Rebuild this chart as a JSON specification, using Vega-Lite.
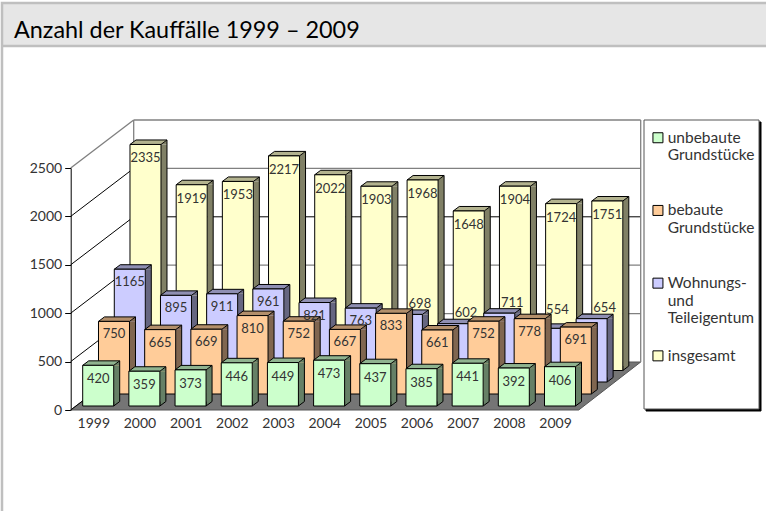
{"$schema":"https://vega.github.io/schema/vega-lite/v6.json","width":508,"height":242,"autosize":{"type":"none"},"padding":{"left":70.7,"top":168,"right":187.3,"bottom":101},"background":"#ffffff",
"title":{"text":"Anzahl der Kauffälle 1999 – 2009","anchor":"start","frame":"group","dx":-56.7,"offset":-45,"fontSize":23.4,"font":"Lato","fontWeight":"normal","color":"#000000"},
"config":{"view":{"stroke":null},"text":{"font":"Lato"}},
"datasets":{"grid":[{"tick":0},{"tick":500},{"tick":1000},{"tick":1500},{"tick":2000},{"tick":2500}],
"one":[{"k":1}],
"d":[{"year":1999,"series":"unbebaute Grundstücke","value":420},{"year":2000,"series":"unbebaute Grundstücke","value":359},{"year":2001,"series":"unbebaute Grundstücke","value":373},{"year":2002,"series":"unbebaute Grundstücke","value":446},{"year":2003,"series":"unbebaute Grundstücke","value":449},{"year":2004,"series":"unbebaute Grundstücke","value":473},{"year":2005,"series":"unbebaute Grundstücke","value":437},{"year":2006,"series":"unbebaute Grundstücke","value":385},{"year":2007,"series":"unbebaute Grundstücke","value":441},{"year":2008,"series":"unbebaute Grundstücke","value":392},{"year":2009,"series":"unbebaute Grundstücke","value":406},
{"year":1999,"series":"bebaute Grundstücke","value":750},{"year":2000,"series":"bebaute Grundstücke","value":665},{"year":2001,"series":"bebaute Grundstücke","value":669},{"year":2002,"series":"bebaute Grundstücke","value":810},{"year":2003,"series":"bebaute Grundstücke","value":752},{"year":2004,"series":"bebaute Grundstücke","value":667},{"year":2005,"series":"bebaute Grundstücke","value":833},{"year":2006,"series":"bebaute Grundstücke","value":661},{"year":2007,"series":"bebaute Grundstücke","value":752},{"year":2008,"series":"bebaute Grundstücke","value":778},{"year":2009,"series":"bebaute Grundstücke","value":691},
{"year":1999,"series":"Wohnungs- und Teileigentum","value":1165},{"year":2000,"series":"Wohnungs- und Teileigentum","value":895},{"year":2001,"series":"Wohnungs- und Teileigentum","value":911},{"year":2002,"series":"Wohnungs- und Teileigentum","value":961},{"year":2003,"series":"Wohnungs- und Teileigentum","value":821},{"year":2004,"series":"Wohnungs- und Teileigentum","value":763},{"year":2005,"series":"Wohnungs- und Teileigentum","value":698},{"year":2006,"series":"Wohnungs- und Teileigentum","value":602},{"year":2007,"series":"Wohnungs- und Teileigentum","value":711},{"year":2008,"series":"Wohnungs- und Teileigentum","value":554},{"year":2009,"series":"Wohnungs- und Teileigentum","value":654},
{"year":1999,"series":"insgesamt","value":2335},{"year":2000,"series":"insgesamt","value":1919},{"year":2001,"series":"insgesamt","value":1953},{"year":2002,"series":"insgesamt","value":2217},{"year":2003,"series":"insgesamt","value":2022},{"year":2004,"series":"insgesamt","value":1903},{"year":2005,"series":"insgesamt","value":1968},{"year":2006,"series":"insgesamt","value":1648},{"year":2007,"series":"insgesamt","value":1904},{"year":2008,"series":"insgesamt","value":1724},{"year":2009,"series":"insgesamt","value":1751}]},
"layer":[
{"data":{"name":"one"},"mark":{"type":"point","filled":true,"opacity":1,"size":4,"fill":"#e6e6e6","stroke":"#bfbfbf","strokeWidth":2.5,"shape":"M2,3 H775 V46 H2 Z M2,46 V520"},"encoding":{"x":{"value":-70.7},"y":{"value":-168}}},
{"data":{"name":"one"},"mark":{"type":"point","filled":true,"opacity":1,"size":4,"fill":"#000000","stroke":"#000000","strokeWidth":1,"shape":"M2,2 H117 V291 H2 Z"},"encoding":{"x":{"value":573.3},"y":{"value":-48}}},
{"data":{"name":"one"},"mark":{"type":"point","filled":true,"opacity":1,"size":4,"fill":"#ffffff","stroke":"#555555","strokeWidth":1,"shape":"M0,0 H115 V289 H0 Z"},"encoding":{"x":{"value":573.3},"y":{"value":-48}}},
{"data":{"name":"one"},"mark":{"type":"point","filled":true,"opacity":1,"size":4,"fill":"#757575","stroke":"#555555","strokeWidth":1,"shape":"M0,0 L508,0 L570,-48 L63,-48 Z"},"encoding":{"x":{"value":0},"y":{"datum":0,"title":null,"scale":{"domain":[0,2500],"nice":false},"axis":{"values":[0,500,1000,1500,2000,2500],"format":"d","grid":false,"tickSize":6,"tickColor":"#000000","domainColor":"#000000","labelFont":"Lato","labelFontSize":14,"labelColor":"#333333","labelPadding":3}}}},
{"data":{"name":"grid"},"transform":[{"filter":"datum.tick!=1500&&datum.tick!=0"}],"mark":{"type":"rule","color":"#808080","strokeWidth":1.3,"yOffset":-48,"y2Offset":-48},"encoding":{"x":{"value":63},"x2":{"value":570},"y":{"field":"tick","type":"quantitative","title":null},"y2":{"field":"tick"}}},
{"data":{"name":"grid"},"transform":[{"filter":"datum.tick==1500"}],"mark":{"type":"rule","color":"#000000","strokeWidth":1,"yOffset":-48,"y2Offset":-48},"encoding":{"x":{"value":63},"x2":{"value":570},"y":{"field":"tick","type":"quantitative","title":null},"y2":{"field":"tick"}}},
{"data":{"name":"grid"},"transform":[{"filter":"datum.tick==2500"}],"mark":{"type":"rule","color":"#808080","strokeWidth":1.3,"y2Offset":-48},"encoding":{"x":{"value":0},"x2":{"value":63},"y":{"field":"tick","type":"quantitative","title":null},"y2":{"field":"tick"}}},
{"data":{"name":"grid"},"transform":[{"filter":"datum.tick<2500"}],"mark":{"type":"rule","color":"#000000","strokeWidth":1,"y2Offset":-48},"encoding":{"x":{"value":0},"x2":{"value":63},"y":{"field":"tick","type":"quantitative","title":null},"y2":{"field":"tick"}}},
{"data":{"name":"one"},"mark":{"type":"rule","color":"#808080","strokeWidth":1.3,"yOffset":-48,"y2Offset":-48},"encoding":{"x":{"value":63},"y":{"datum":2500,"title":null},"y2":{"datum":0}}},
{"data":{"name":"one"},"mark":{"type":"rule","color":"#808080","strokeWidth":1.3,"yOffset":-48,"y2Offset":-48},"encoding":{"x":{"value":570},"y":{"datum":2500,"title":null},"y2":{"datum":0}}},
{"data":{"name":"d"},"encoding":{"x":{"field":"year","type":"ordinal","title":null,"scale":{"type":"band","paddingInner":0,"paddingOuter":0},"axis":{"labelAngle":0,"ticks":false,"domain":false,"labelPadding":6,"labelFont":"Lato","labelFontSize":14,"labelColor":"#333333"}},"y":{"field":"value","type":"quantitative","stack":null,"title":null}},
"layer":[
{"transform":[{"filter":"datum.series=='insgesamt'"}],"layer":[
{"mark":{"type":"bar","width":6,"fill":"#808066","xOffset":70.2,"yOffset":-39.5,"y2Offset":-44},"encoding":{"y2":{"datum":0}}},
{"mark":{"type":"point","filled":true,"opacity":1,"size":4,"fill":"#808066","shape":"M31,0 L37,-4.5 L37,0 Z","xOffset":36.2,"yOffset":-39.5}},
{"mark":{"type":"point","filled":true,"opacity":1,"size":4,"fill":"#b3b38f","stroke":"#000000","strokeWidth":1,"shape":"M0,0 L31,0 L37,-4.5 L6,-4.5 Z","xOffset":36.2,"yOffset":-39.5}},
{"mark":{"type":"rule","color":"#000000","xOffset":73.2,"yOffset":-44,"y2Offset":-44},"encoding":{"y2":{"datum":0}}},
{"mark":{"type":"point","filled":true,"opacity":1,"size":4,"fill":"#808066","stroke":"#000000","strokeWidth":1,"shape":"M0,-4.5 L0,0 L6,-4.5","xOffset":67.2,"yOffset":-39.5},"encoding":{"y":{"datum":0}}},
{"mark":{"type":"bar","width":31,"stroke":"#000000","strokeWidth":1,"xOffset":51.7,"yOffset":-39.5,"y2Offset":-39.5},"encoding":{"y2":{"datum":0},"color":{"field":"series","type":"nominal","scale":{"domain":["unbebaute Grundstücke","bebaute Grundstücke","Wohnungs- und Teileigentum","insgesamt"],"range":["#ccffcc","#ffcc99","#ccccff","#ffffcc"]},"legend":{"title":null,"orient":"none","legendX":579.5,"legendY":-38,"padding":0,"symbolType":"square","symbolSize":100,"symbolStrokeColor":"#555555","symbolStrokeWidth":1,"labelFont":"Lato","labelFontSize":15.5,"labelColor":"#333333","labelOffset":2,"labelBaseline":"middle","rowPadding":20.7,"gridAlign":"all","labelLimit":120,"labelExpr":"datum.label=='unbebaute Grundstücke'?['unbebaute','Grundstücke']:datum.label=='bebaute Grundstücke'?['bebaute','Grundstücke']:datum.label=='insgesamt'?'insgesamt':['Wohnungs-','und','Teileigentum']"}}}}
]},
{"transform":[{"filter":"datum.series=='Wohnungs- und Teileigentum'"}],"layer":[
{"mark":{"type":"bar","width":6,"fill":"#666680","xOffset":54.5,"yOffset":-28,"y2Offset":-32.5},"encoding":{"y2":{"datum":0}}},
{"mark":{"type":"point","filled":true,"opacity":1,"size":4,"fill":"#666680","shape":"M31,0 L37,-4.5 L37,0 Z","xOffset":20.5,"yOffset":-28}},
{"mark":{"type":"point","filled":true,"opacity":1,"size":4,"fill":"#8f8fb3","stroke":"#000000","strokeWidth":1,"shape":"M0,0 L31,0 L37,-4.5 L6,-4.5 Z","xOffset":20.5,"yOffset":-28}},
{"mark":{"type":"rule","color":"#000000","xOffset":57.5,"yOffset":-32.5,"y2Offset":-32.5},"encoding":{"y2":{"datum":0}}},
{"mark":{"type":"point","filled":true,"opacity":1,"size":4,"fill":"#666680","stroke":"#000000","strokeWidth":1,"shape":"M0,-4.5 L0,0 L6,-4.5","xOffset":51.5,"yOffset":-28},"encoding":{"y":{"datum":0}}},
{"mark":{"type":"bar","width":31,"stroke":"#000000","strokeWidth":1,"xOffset":36,"yOffset":-28,"y2Offset":-28},"encoding":{"y2":{"datum":0},"color":{"field":"series","type":"nominal"}}}
]},
{"transform":[{"filter":"datum.series=='bebaute Grundstücke'"}],"layer":[
{"mark":{"type":"bar","width":6,"fill":"#806650","xOffset":38.7,"yOffset":-16,"y2Offset":-20.5},"encoding":{"y2":{"datum":0}}},
{"mark":{"type":"point","filled":true,"opacity":1,"size":4,"fill":"#806650","shape":"M31,0 L37,-4.5 L37,0 Z","xOffset":4.7,"yOffset":-16}},
{"mark":{"type":"point","filled":true,"opacity":1,"size":4,"fill":"#b38f6b","stroke":"#000000","strokeWidth":1,"shape":"M0,0 L31,0 L37,-4.5 L6,-4.5 Z","xOffset":4.7,"yOffset":-16}},
{"mark":{"type":"rule","color":"#000000","xOffset":41.7,"yOffset":-20.5,"y2Offset":-20.5},"encoding":{"y2":{"datum":0}}},
{"mark":{"type":"point","filled":true,"opacity":1,"size":4,"fill":"#806650","stroke":"#000000","strokeWidth":1,"shape":"M0,-4.5 L0,0 L6,-4.5","xOffset":35.7,"yOffset":-16},"encoding":{"y":{"datum":0}}},
{"mark":{"type":"bar","width":31,"stroke":"#000000","strokeWidth":1,"xOffset":20.2,"yOffset":-16,"y2Offset":-16},"encoding":{"y2":{"datum":0},"color":{"field":"series","type":"nominal"}}}
]},
{"transform":[{"filter":"datum.series=='unbebaute Grundstücke'"}],"layer":[
{"mark":{"type":"bar","width":6,"fill":"#668066","xOffset":22.9,"yOffset":-4,"y2Offset":-8.5},"encoding":{"y2":{"datum":0}}},
{"mark":{"type":"point","filled":true,"opacity":1,"size":4,"fill":"#668066","shape":"M31,0 L37,-4.5 L37,0 Z","xOffset":-11.1,"yOffset":-4}},
{"mark":{"type":"point","filled":true,"opacity":1,"size":4,"fill":"#8fb38f","stroke":"#000000","strokeWidth":1,"shape":"M0,0 L31,0 L37,-4.5 L6,-4.5 Z","xOffset":-11.1,"yOffset":-4}},
{"mark":{"type":"rule","color":"#000000","xOffset":25.9,"yOffset":-8.5,"y2Offset":-8.5},"encoding":{"y2":{"datum":0}}},
{"mark":{"type":"point","filled":true,"opacity":1,"size":4,"fill":"#668066","stroke":"#000000","strokeWidth":1,"shape":"M0,-4.5 L0,0 L6,-4.5","xOffset":19.9,"yOffset":-4},"encoding":{"y":{"datum":0}}},
{"mark":{"type":"bar","width":31,"stroke":"#000000","strokeWidth":1,"xOffset":4.4,"yOffset":-4,"y2Offset":-4},"encoding":{"y2":{"datum":0},"color":{"field":"series","type":"nominal"}}}
]},
{"transform":[{"filter":"datum.series=='insgesamt'"}],"mark":{"type":"text","font":"Lato","fontSize":13,"color":"#333333","baseline":"middle","xOffset":51.7,"yOffset":-25.5},"encoding":{"text":{"field":"value","type":"quantitative","format":"d"}}},
{"transform":[{"filter":"datum.series=='Wohnungs- und Teileigentum'&&datum.year<2005"}],"mark":{"type":"text","font":"Lato","fontSize":13,"color":"#333333","baseline":"middle","xOffset":36,"yOffset":-15},"encoding":{"text":{"field":"value","type":"quantitative","format":"d"}}},
{"transform":[{"filter":"datum.series=='Wohnungs- und Teileigentum'&&datum.year>=2005&&datum.value!=554"}],"mark":{"type":"text","font":"Lato","fontSize":13,"color":"#333333","baseline":"middle","xOffset":49,"yOffset":-38.5},"encoding":{"text":{"field":"value","type":"quantitative","format":"d"}}},
{"transform":[{"filter":"datum.series=='Wohnungs- und Teileigentum'&&datum.value==554"}],"mark":{"type":"text","font":"Lato","fontSize":13,"color":"#333333","baseline":"middle","xOffset":48,"yOffset":-46.5},"encoding":{"text":{"field":"value","type":"quantitative","format":"d"}}},
{"transform":[{"filter":"datum.series=='bebaute Grundstücke'"}],"mark":{"type":"text","font":"Lato","fontSize":13,"color":"#333333","baseline":"middle","xOffset":20.2,"yOffset":-3},"encoding":{"text":{"field":"value","type":"quantitative","format":"d"}}},
{"transform":[{"filter":"datum.series=='unbebaute Grundstücke'"}],"mark":{"type":"text","font":"Lato","fontSize":13,"color":"#333333","baseline":"middle","xOffset":4.4,"yOffset":10},"encoding":{"text":{"field":"value","type":"quantitative","format":"d"}}}
]}
]}
